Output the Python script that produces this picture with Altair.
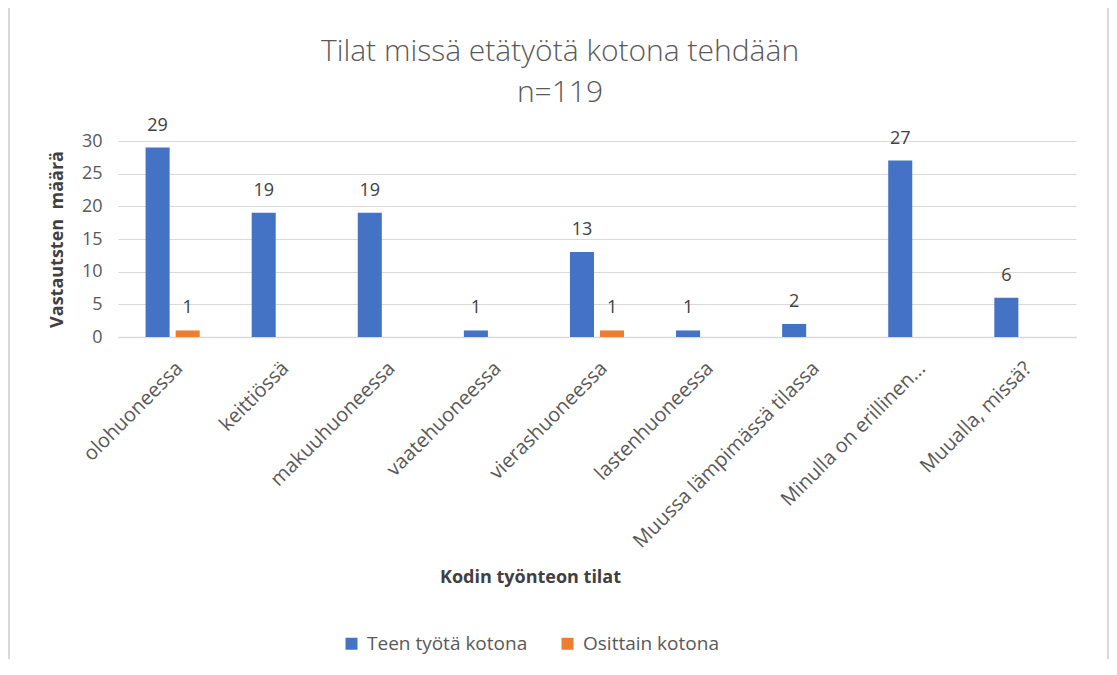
import altair as alt
import pandas as pd

categories = ["olohuoneessa", "keittiössä", "makuuhuoneessa", "vaatehuoneessa",
              "vierashuoneessa", "lastenhuoneessa", "Muussa lämpimässä tilassa",
              "Minulla on erillinen...", "Muualla, missä?"]
series = ["Teen työtä kotona", "Osittain kotona"]
teen = [29, 19, 19, 1, 13, 1, 2, 27, 6]
osittain = [1, None, None, None, 1, None, None, None, None]
colors = ["#4472C4", "#ED7D31"]

rows = []
for c, a, b in zip(categories, teen, osittain):
    if a is not None:
        rows.append({"cat": c, "series": series[0], "value": a})
    if b is not None:
        rows.append({"cat": c, "series": series[1], "value": b})
df = pd.DataFrame(rows)

font = "Open Sans"
W, H = 958, 196

x = alt.X("cat:N", sort=categories,
          scale=alt.Scale(paddingInner=0.49, paddingOuter=0.26),
          axis=alt.Axis(title="Kodin työnteon tilat", labelAngle=-45, labelFontSize=20,
                        labelColor="#595959", labelFont=font, ticks=False,
                        domainColor="#D9D9D9", domainWidth=1.5, labelPadding=28,
                        labelBaseline="middle", labelAlign="right", labelOffset=7,
                        titleFontSize=18, titleFont=font, titleFontWeight="bold",
                        titleColor="#404040", titleX=412, titleY=240,
                        titleBaseline="middle", titleAlign="center", labelLimit=400))
xo = alt.XOffset("series:N", sort=series, scale=alt.Scale(domain=series, paddingInner=0.2))
y = alt.Y("value:Q", scale=alt.Scale(domain=[0, 30]),
          axis=alt.Axis(title="Vastautsten\u00a0 määrä", values=[0, 5, 10, 15, 20, 25, 30],
                        labelFontSize=18, labelColor="#595959", labelFont=font,
                        ticks=False, domain=False, labelPadding=16,
                        gridColor="#D9D9D9", gridWidth=1,
                        titleFontSize=18, titleFont=font, titleFontWeight="bold",
                        titleColor="#404040", titlePadding=15))
color = alt.Color("series:N", sort=series,
                  scale=alt.Scale(domain=series, range=colors),
                  legend=alt.Legend(title=None, orient="none", direction="horizontal",
                                    legendX=224, legendY=493, symbolType="square",
                                    symbolSize=144, symbolStrokeWidth=0,
                                    labelFontSize=19, labelFont=font, labelColor="#595959",
                                    columnPadding=30, labelOffset=6, labelLimit=400))

bars = alt.Chart(df).mark_bar().encode(x=x, xOffset=xo, y=y, color=color)
labels = alt.Chart(df).mark_text(dy=-13, fontSize=18, font=font, color="#404040",
                                 baseline="bottom").encode(
    x=x, xOffset=xo, y=y, text="value:Q")

border = alt.Chart(pd.DataFrame({"a": [0]})).mark_rect(
    fill=None, stroke="#D9D9D9", strokeWidth=2, clip=False).encode(
    x=alt.value(-109), x2=alt.value(990), y=alt.value(-134), y2=alt.value(560))

chart = alt.layer(border, bars, labels).properties(
    width=W, height=H,
    title=alt.TitleParams(["Tilat missä etätyötä kotona tehdään", "n=119"],
                          fontSize=30, font=font, fontWeight=300, color="#595959",
                          anchor="middle", lineHeight=41, offset=-102, dx=-37),
    autosize=alt.AutoSizeParams(type="none"),
    padding={"left": 110, "top": 133, "right": 33, "bottom": 322},
).configure_view(stroke=None)

chart.save("out.html", embed_options={"renderer": "svg", "actions": False})
